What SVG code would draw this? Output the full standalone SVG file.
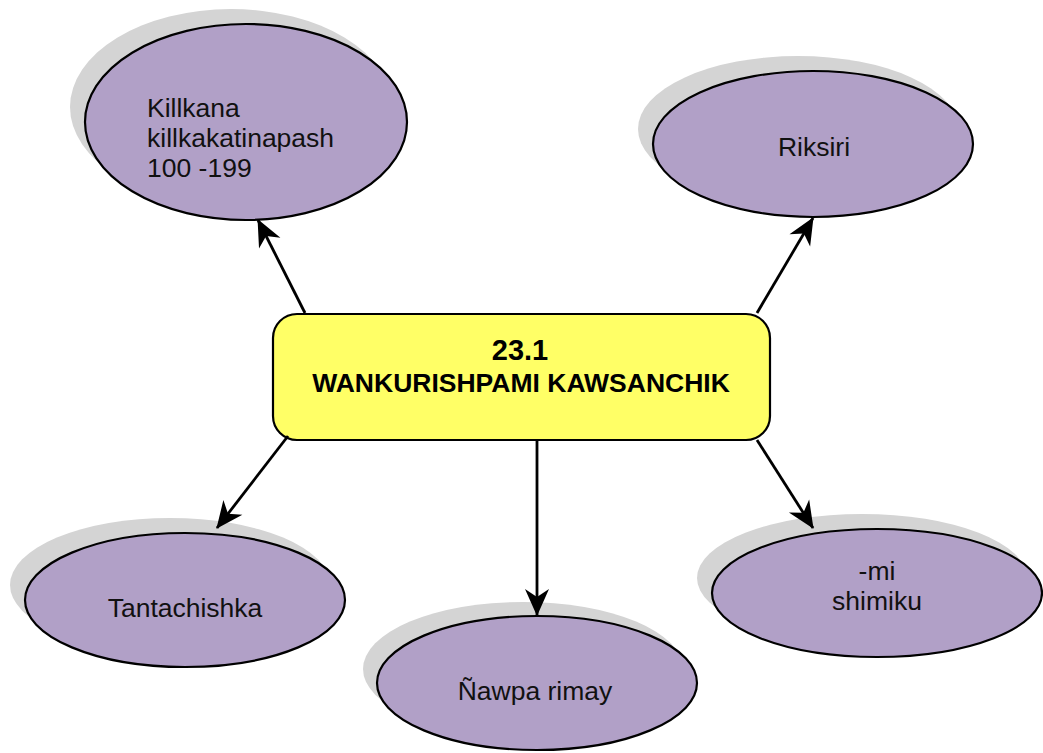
<svg xmlns="http://www.w3.org/2000/svg" width="1043" height="753" viewBox="0 0 1043 753">
  <style>
    .shadow { fill: #D4D4D4; stroke: none; }
    .oval { fill: #B1A0C7; stroke: #000; stroke-width: 2.2; }
    .box { fill: #FFFF66; stroke: #000; stroke-width: 2.2; }
    .lbl { font-family: "Liberation Sans", Arial, sans-serif; font-size: 26.5px; fill: #111; }
    .title { font-family: "Liberation Sans", Arial, sans-serif; font-weight: bold; fill: #000; text-anchor: middle; }
    .conn { stroke: #000; stroke-width: 2.8; fill: none; marker-end: url(#arr); }
  </style>
  <defs>
    <marker id="arr" markerUnits="userSpaceOnUse" markerWidth="30" markerHeight="26" viewBox="-27 -13 29 26" refX="0" refY="0" orient="auto">
      <path d="M1,0 L-26,-12 L-18,0 L-26,12 Z" fill="#000"/>
    </marker>
  </defs>
  <rect width="1043" height="753" fill="#fff"/>

  <g id="node-killkana">
    <ellipse class="shadow" cx="231" cy="107" rx="161" ry="98"/>
    <ellipse class="oval" cx="246" cy="122" rx="161" ry="98"/>
    <text class="lbl" x="147" y="117">Killkana</text>
    <text class="lbl" x="147" y="147">killkakatinapash</text>
    <text class="lbl" x="147" y="177">100 -199</text>
  </g>

  <g id="node-riksiri">
    <ellipse class="shadow" cx="798" cy="129" rx="160" ry="73"/>
    <ellipse class="oval" cx="813" cy="144" rx="160" ry="73"/>
    <text class="lbl" x="814" y="156" text-anchor="middle">Riksiri</text>
  </g>

  <g id="node-tantachishka">
    <ellipse class="shadow" cx="170" cy="585" rx="160" ry="67"/>
    <ellipse class="oval" cx="185" cy="600" rx="160" ry="67"/>
    <text class="lbl" x="185" y="617" text-anchor="middle">Tantachishka</text>
  </g>

  <g id="node-nawpa">
    <ellipse class="shadow" cx="523" cy="669" rx="160" ry="67"/>
    <ellipse class="oval" cx="537" cy="683" rx="160" ry="67"/>
    <text class="lbl" x="535" y="700" text-anchor="middle">Ñawpa rimay</text>
  </g>

  <g id="node-mi">
    <ellipse class="shadow" cx="862" cy="578" rx="165" ry="64"/>
    <ellipse class="oval" cx="877" cy="593" rx="165" ry="64"/>
    <text class="lbl" x="877" y="580" text-anchor="middle">-mi</text>
    <text class="lbl" x="877" y="610" text-anchor="middle">shimiku</text>
  </g>

  <g id="node-center">
    <rect class="box" x="273" y="314" width="497" height="126" rx="24" ry="24"/>
    <text class="title" x="520" y="360" font-size="29">23.1</text>
    <text class="title" x="521" y="392" font-size="26.5">WANKURISHPAMI KAWSANCHIK</text>
  </g>

  <g id="connectors">
    <line class="conn" x1="305" y1="313" x2="258" y2="220"/>
    <line class="conn" x1="757" y1="313" x2="813" y2="218"/>
    <line class="conn" x1="288" y1="436" x2="217" y2="528"/>
    <line class="conn" x1="537" y1="440" x2="537" y2="615"/>
    <line class="conn" x1="757" y1="440" x2="813" y2="528"/>
  </g>
</svg>
